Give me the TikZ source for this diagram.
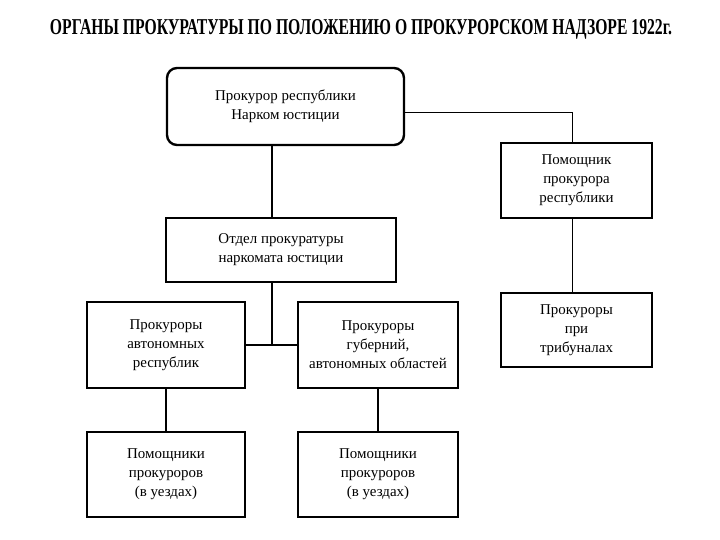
\documentclass[tikz,border=0pt]{standalone}
\usepackage{fontspec}
\setmainfont{Liberation Serif}
\usepackage{graphicx}

\begin{document}
\begin{tikzpicture}[x=1bp,y=-1bp,
	box/.style={draw,line width=1.8pt,align=center,inner sep=2bp,
		font=\fontsize{15}{19}\selectfont},
	topbox/.style={box,rounded corners=10bp,line width=2.4pt},
	link/.style={line width=1.8pt},
	thinlink/.style={line width=0.9pt}]
	\useasboundingbox (0,0) rectangle (720,540);
	% 表題
	\node (title) at (361,29) {\resizebox{622bp}{15bp}{\bfseries ОРГАНЫ ПРОКУРАТУРЫ ПО ПОЛОЖЕНИЮ О ПРОКУРОРСКОМ НАДЗОРЕ 1922г.}};
	% 箱の描画
	\node[topbox,minimum width=237bp,minimum height=77bp] (chief) at (285.5,106.5) {Прокурор республики\\Нарком юстиции};
	\node[box,minimum width=151bp,minimum height=75bp] (helper) at (576.5,180.5) {Помощник\\прокурора\\республики};
	\node[box,minimum width=230bp,minimum height=64bp] (dept) at (281,250) {Отдел прокуратуры\\наркомата юстиции};
	\node[box,minimum width=158bp,minimum height=86bp] (autrep) at (166,345) {Прокуроры\\автономных\\республик};
	\node[box,minimum width=160bp,minimum height=86bp] (gub) at (378,345) {Прокуроры\\губерний,\\автономных областей};
	\node[box,minimum width=151bp,minimum height=74bp] (trib) at (576.5,330) {Прокуроры\\при\\трибуналах};
	\node[box,minimum width=158bp,minimum height=85bp] (autrephelp) at (166,474.5) {Помощники\\прокуроров\\(в уездах)};
	\node[box,minimum width=160bp,minimum height=85bp] (gubhelp) at (378,474.5) {Помощники\\прокуроров\\(в уездах)};
	% 点の定義
	\coordinate (junction) at (272,345);
	\coordinate (corner) at (572,112);
	% 線の描画
	\draw[link] (chief.south -| junction)--(dept.north -| junction);
	\draw[link] (dept.south -| junction)--(junction);
	\draw[link] (autrep.east)--(gub.west);
	\draw[thinlink] (chief.east |- corner)--(corner)--(corner |- helper.north);
	\draw[thinlink] (corner |- helper.south)--(corner |- trib.north);
	\draw[link] (autrep.south)--(autrephelp.north);
	\draw[link] (gub.south)--(gubhelp.north);
\end{tikzpicture}
\end{document}
